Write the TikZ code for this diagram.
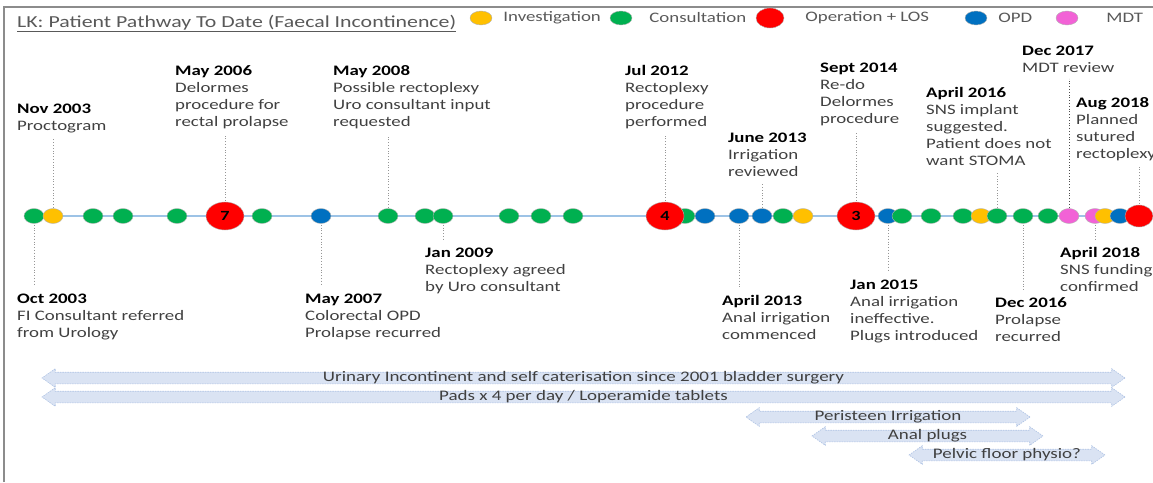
\documentclass[tikz,border=0pt]{standalone}
\usepackage{fontspec}
\setmainfont{Carlito}[FakeStretch=1.3]
\usepackage{tikz}
\usetikzlibrary{shapes.geometric,shapes.arrows,positioning,backgrounds}
\definecolor{consult}{RGB}{0,176,80}
\definecolor{invest}{RGB}{255,192,0}
\definecolor{oper}{RGB}{255,0,0}
\definecolor{opd}{RGB}{0,112,192}
\definecolor{mdt}{RGB}{242,98,214}
\definecolor{tlblue}{RGB}{157,195,230}
\definecolor{leadgray}{RGB}{150,150,150}
\definecolor{txtgray}{RGB}{64,64,64}
\definecolor{titlegray}{RGB}{89,89,89}
\definecolor{bandfill}{RGB}{218,227,243}
\definecolor{bandline}{RGB}{175,195,228}
\definecolor{framegray}{RGB}{140,140,140}
\newcommand{\evdate}[1]{\rule{0pt}{11pt}\textbf{\color{black}#1}}

\begin{document}
\begin{tikzpicture}[x=1pt,y=-1pt,
  dot/.style={draw=gray!60,line width=0.4pt,ellipse,minimum width=20pt,minimum height=15pt,inner sep=0pt},
  opdot/.style={dot,fill=oper,minimum width=38pt,minimum height=28pt,font=\fontsize{14}{14}\selectfont\bfseries},
  evt/.style={anchor=north west,align=left,inner sep=0pt,text=txtgray,font=\fontsize{14.5}{17}\selectfont},
  key/.style={anchor=west,inner sep=0pt,text=titlegray,font=\fontsize{14.5}{17}\selectfont},
  lead/.style={draw=leadgray,dotted,line width=0.8pt,shorten >=6pt,shorten <=1pt},
  tline/.style={line width=2.5pt,tlblue},
  band/.style={double arrow,fill=bandfill,draw=bandline,line width=0.6pt,dash pattern=on 1.5pt off 1pt,
    double arrow head extend=3.5pt,double arrow tip angle=70,minimum width=18pt,
    inner xsep=0pt,inner ysep=0.5pt,text height=8pt,text depth=2pt,text=txtgray,
    font=\fontsize{14.6}{16}\selectfont}
]
  \useasboundingbox (0,0) rectangle (1153,482);
  \draw[framegray,line width=1.2pt] (4,482) -- (4,7) -- (1153,7);

  % title and key
  \node[key,anchor=base west,font=\fontsize{16.8}{18}\selectfont] (title) at (17,27) {\underline{LK: Patient Pathway To Date (Faecal Incontinence)}};
  \node[dot,fill=invest,minimum width=22pt,minimum height=14pt] (k-inv) at (481,18) {};
  \node[key,right=11pt of k-inv] (t-inv) {Investigation};
  \node[dot,fill=consult,minimum width=22pt,minimum height=14pt] (k-con) at (621,18) {};
  \node[key,right=17pt of k-con] (t-con) {Consultation};
  \node[dot,fill=oper,minimum width=28pt,minimum height=20pt] (k-op) at (770,18) {};
  \node[key,right=21pt of k-op] (t-op) {Operation + LOS};
  \node[dot,fill=opd,minimum width=22pt,minimum height=14pt] (k-opd) at (976,18) {};
  \node[key,right=11pt of k-opd] (t-opd) {OPD};
  \node[dot,fill=mdt,minimum width=22pt,minimum height=14pt] (k-mdt) at (1067,18) {};
  \node[key,right=28pt of k-mdt] (t-mdt) {MDT};

  % events on the line
  \foreach \x/\col/\nm in {34/consult/oct03,53/invest/nov03,93/consult/c93,123/consult/c123,
      177/consult/c177,262/consult/c262,321/opd/may07,388/consult/may08,425/consult/c425,
      443/consult/jan09,509/consult/c509,541/consult/c541,573/consult/c573,685/consult/c685,
      705/opd/b705,739/opd/apr13,762/opd/jun13,783/consult/c783,803/invest/y803,
      888/opd/jan15,902/consult/c902,931/consult/c931,963/consult/c963,981/invest/y981,
      997/consult/apr16,1023/consult/dec16,1048/consult/c1048,1069/mdt/dec17,
      1095/mdt/apr18,1105/invest/y1105,1120/opd/b1120}
    \node[dot,fill=\col] (\nm) at (\x,216) {};
  \node[opdot] (may06) at (225,216) {7};
  \node[opdot] (jul12) at (665,216) {4};
  \node[opdot] (sep14) at (856,216) {3};
  \node[opdot,minimum width=28pt,minimum height=22pt] (aug18) at (1139,216) {};
  \begin{pgfonlayer}{background}
    \draw[tline] (oct03) -- (aug18);
  \end{pgfonlayer}

  % labels above
  \node[evt] (l-nov03) at (17,102) {\evdate{Nov 2003}\\Proctogram};
  \node[evt] (l-may06) at (175,64) {\evdate{May 2006}\\Delormes\\procedure for\\rectal prolapse};
  \node[evt] (l-may08) at (333,64) {\evdate{May 2008}\\Possible rectoplexy\\Uro consultant input\\requested};
  \node[evt] (l-jul12) at (625,64) {\evdate{Jul 2012}\\Rectoplexy\\procedure\\performed};
  \node[evt] (l-jun13) at (728,131) {\evdate{June 2013}\\Irrigation\\reviewed};
  \node[evt] (l-sep14) at (820,61) {\evdate{Sept 2014}\\Re-do\\Delormes\\procedure};
  \node[evt] (l-apr16) at (926,86) {\evdate{April 2016}\\SNS implant\\suggested.\\Patient does not\\want STOMA};
  \node[evt] (l-dec17) at (1022,44) {\evdate{Dec 2017}\\MDT review};
  \node[evt] (l-aug18) at (1076,96) {\evdate{Aug 2018}\\Planned\\sutured\\rectoplexy};

  % labels below
  \node[evt] (l-oct03) at (17,292) {\evdate{Oct 2003}\\FI Consultant referred\\from Urology};
  \node[evt] (l-may07) at (305,292) {\evdate{May 2007}\\Colorectal OPD\\Prolapse recurred};
  \node[evt] (l-jan09) at (425,246) {\evdate{Jan 2009}\\Rectoplexy agreed\\by Uro consultant};
  \node[evt] (l-apr13) at (722,294) {\evdate{April 2013}\\Anal irrigation\\commenced};
  \node[evt] (l-jan15) at (850,278) {\evdate{Jan 2015}\\Anal irrigation\\ineffective.\\Plugs introduced};
  \node[evt] (l-dec16) at (995,296) {\evdate{Dec 2016}\\Prolapse\\recurred};
  \node[evt] (l-apr18) at (1060,246) {\evdate{April 2018}\\SNS funding\\confirmed};

  % leaders
  \foreach \d in {nov03,may06,may08,jul12,jun13,sep14,apr16,aug18}
    \draw[lead] (\d.north) -- (\d.north |- l-\d.south);
  \draw[lead,draw=black!70] (dec17.north) -- (dec17.north |- l-dec17.south);
  \foreach \d in {oct03,may07,jan09,apr13,jan15,dec16,apr18}
    \draw[lead] (\d.south) -- (\d.south |- l-\d.north);

  % ongoing treatment
  \node[band,minimum height=1083pt] (urin) at (583.5,378) {Urinary Incontinent and self caterisation since 2001 bladder surgery};
  \node[band,minimum height=1083pt] (pads) at (583.5,397) {Pads x 4 per day / Loperamide tablets};
  \node[band,minimum height=284pt] (peri) at (888,417) {Peristeen Irrigation};
  \node[band,minimum height=231pt] (plugs) at (927.5,436) {Anal plugs};
  \node[band,minimum height=196pt] (physio) at (1007,455) {Pelvic floor physio?};
\end{tikzpicture}
\end{document}
